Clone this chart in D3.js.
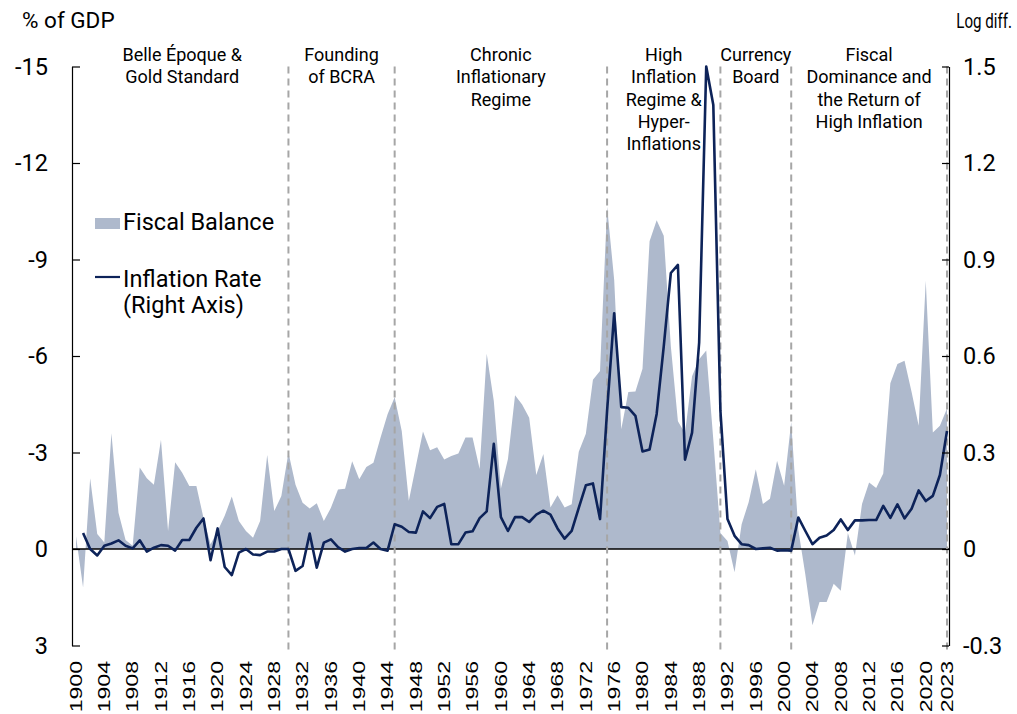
<!DOCTYPE html>
<html>
<head>
<meta charset="utf-8">
<script src="https://cdn.jsdelivr.net/npm/d3@7"></script>
<style>
  body { margin: 0; background: #fff; overflow: hidden; }
  text { font-family: Roboto, "Noto Sans", sans-serif; fill: #000; }
</style>
</head>
<body>
<div id="chart"></div>
<script>
// Years on the category axis
const years = d3.range(1900, 2024);

// Fiscal balance, % of GDP (negative = deficit, drawn upwards)
const fiscal = [
  -0.4, 1.2, -2.2, -0.47, -0.2, -3.6, -1.13, -0.28, -0.1, -2.53,     // 1900s
  -2.2, -2.0, -3.4, -0.56, -2.7, -2.37, -1.96, -1.96, -0.97, -0.15,  // 1910s
  -0.56, -1.03, -1.63, -0.87, -0.56, -0.35, -0.87, -2.92, -1.18, -1.65, // 1920s
  -3.0, -2.0, -1.44, -1.26, -1.42, -0.87, -1.28, -1.85, -1.87, -2.73,  // 1930s
  -2.17, -2.55, -2.68, -3.46, -4.19, -4.72, -3.67, -1.5, -2.58, -3.65, // 1940s
  -3.07, -3.16, -2.78, -2.89, -2.97, -3.47, -3.47, -2.49, -6.07, -4.6, // 1950s
  -1.87, -2.8, -4.78, -4.49, -4.08, -2.3, -2.95, -1.29, -1.67, -1.29,  // 1960s
  -1.39, -3.02, -3.58, -5.26, -5.53, -10.64, -8.37, -3.72, -4.88, -4.9, // 1970s
  -5.6, -9.57, -10.22, -9.74, -6.3, -3.97, -3.6, -5.37, -5.9, -6.17,   // 1980s
  -3.4, -0.5, -0.25, 0.72, -0.77, -1.46, -2.48, -1.4, -1.56, -2.74,    // 1990s
  -1.97, -3.95, -0.6, 0.8, 2.37, 1.65, 1.65, 1.08, 1.3, -0.5,          // 2000s
  0.2, -1.4, -2.07, -1.9, -2.35, -5.15, -5.75, -5.85, -4.88, -3.83,    // 2010s
  -8.34, -3.62, -3.83, -4.37                                          // 2020-2023
];

// Inflation rate, log difference (right axis); no value for 1900
const inflation = [
  null, 0.05, 0.0, -0.02, 0.01, 0.017, 0.027, 0.01, 0.002, 0.027,
  -0.008, 0.004, 0.012, 0.01, -0.005, 0.028, 0.028, 0.066, 0.095, -0.035,
  0.064, -0.056, -0.081, -0.011, 0.0, -0.017, -0.019, -0.008, -0.008, 0.0,
  0.0, -0.068, -0.053, 0.048, -0.058, 0.02, 0.03, 0.006, -0.008, 0.0,
  0.003, 0.003, 0.02, 0.0, -0.005, 0.077, 0.069, 0.053, 0.051, 0.117,
  0.096, 0.131, 0.14, 0.015, 0.015, 0.051, 0.055, 0.096, 0.117, 0.327,
  0.099, 0.056, 0.099, 0.099, 0.084, 0.107, 0.119, 0.107, 0.064, 0.032,
  0.056, 0.128, 0.198, 0.204, 0.093, 0.43, 0.733, 0.441, 0.439, 0.414,
  0.303, 0.309, 0.42, 0.63, 0.858, 0.883, 0.278, 0.362, 0.642, 1.5,
  1.38, 0.43, 0.093, 0.041, 0.015, 0.012, 0.0, 0.002, 0.004, -0.005,
  -0.004, -0.005, 0.098, 0.056, 0.015, 0.035, 0.042, 0.059, 0.092, 0.059,
  0.089, 0.089, 0.09, 0.09, 0.134, 0.097, 0.139, 0.095, 0.125, 0.182,
  0.149, 0.165, 0.23, 0.367
];

// Tick labels
const tickYears = [1900, 1904, 1908, 1912, 1916, 1920, 1924, 1928, 1932, 1936, 1940,
  1944, 1948, 1952, 1956, 1960, 1964, 1968, 1972, 1976, 1980, 1984, 1988, 1992,
  1996, 2000, 2004, 2008, 2012, 2016, 2020, 2023];
const leftTicks = [-15, -12, -9, -6, -3, 0, 3];
const rightTicks = [1.5, 1.2, 0.9, 0.6, 0.3, 0, -0.3];

// Regimes: boundaries and labels
const regimeBounds = [1900, 1930, 1945, 1975, 1991, 2001, 2023];
const regimeNames = [
  ["Belle Époque &", "Gold Standard"],
  ["Founding", "of BCRA"],
  ["Chronic", "Inflationary", "Regime"],
  ["High", "Inflation", "Regime &", "Hyper-", "Inflations"],
  ["Currency", "Board"],
  ["Fiscal", "Dominance and", "the Return of", "High Inflation"]
];

const data = years.map((yr, i) => ({year: yr, fiscal: fiscal[i], inflation: inflation[i]}));

const width = 1017, height = 714;
const plot = {left: 72, right: 949, top: 66.5, bottom: 645.5};

const svg = d3.select("#chart").append("svg")
    .attr("width", width)
    .attr("height", height);

// Scales
const x = d3.scaleLinear().domain([1900, 2023]).range([76, 947]);
const yL = d3.scaleLinear().domain([-15, 3]).range([plot.top, plot.bottom]);
const yR = d3.scaleLinear().domain([1.5, -0.3]).range([plot.top, plot.bottom]);

// Fiscal balance area
svg.append("path")
    .datum(data)
    .attr("fill", "#aeb9cc")
    .attr("d", d3.area()
        .x(d => x(d.year))
        .y0(yL(0))
        .y1(d => yL(d.fiscal)));

// Zero line
svg.append("line")
    .attr("x1", plot.left).attr("x2", plot.right)
    .attr("y1", yL(0)).attr("y2", yL(0))
    .attr("stroke", "#000").attr("stroke-width", 1.5);

// Regime dividers
svg.selectAll(".divider")
    .data(regimeBounds.slice(1))
    .enter()
    .append("line")
    .attr("class", "divider")
    .attr("x1", d => x(d)).attr("x2", d => x(d))
    .attr("y1", plot.top).attr("y2", plot.bottom + 4)
    .attr("stroke", "#a6a6a6")
    .attr("stroke-width", 2)
    .attr("stroke-dasharray", "7,5");

// Inflation line
svg.append("path")
    .datum(data)
    .attr("fill", "none")
    .attr("stroke", "#0d2359")
    .attr("stroke-width", 2.6)
    .attr("stroke-linejoin", "round")
    .attr("d", d3.line()
        .defined(d => d.inflation !== null)
        .x(d => x(d.year))
        .y(d => yR(d.inflation)));

// Left axis
const gL = svg.append("g")
    .attr("transform", `translate(${plot.left},0)`)
    .call(d3.axisLeft(yL).tickValues(leftTicks).tickSizeInner(-8).tickSizeOuter(0)
        .tickPadding(24).tickFormat(d => String(d)));

// Right axis
const gR = svg.append("g")
    .attr("transform", `translate(${plot.right},0)`)
    .call(d3.axisRight(yR).tickValues(rightTicks).tickSizeInner(-7).tickSizeOuter(0)
        .tickPadding(14).tickFormat(d => String(d)));

[gL, gR].forEach(g => {
    g.select(".domain").attr("stroke", "#000").attr("stroke-width", 1.2);
    g.selectAll(".tick line").attr("stroke", "#000").attr("stroke-width", 1.2);
    g.selectAll("text")
        .style("font-family", "Roboto, sans-serif")
        .style("font-size", "23.5px")
        .attr("fill", "#000");
});

// Year labels (rotated)
svg.selectAll(".year")
    .data(tickYears)
    .enter()
    .append("text")
    .attr("class", "year")
    .attr("transform", d => `translate(${x(d)},661) rotate(-90) scale(1.4,1)`)
    .attr("text-anchor", "end")
    .attr("dy", "0.35em")
    .style("font-family", "'Liberation Sans', Arial, sans-serif")
    .style("font-size", "16.5px")
    .text(d => d);

// Axis titles
svg.append("text")
    .attr("x", 22).attr("y", 28)
    .style("font-size", "22.5px")
    .text("% of GDP");

svg.append("text")
    .attr("transform", "translate(1012,28) scale(0.72,1)")
    .attr("text-anchor", "end")
    .style("font-size", "21px")
    .text("Log diff.");

// Regime labels
regimeNames.forEach((lines, i) => {
    const cx = x((regimeBounds[i] + regimeBounds[i + 1]) / 2);
    const t = svg.append("text")
        .attr("text-anchor", "middle")
        .style("font-size", "18px");
    lines.forEach((ln, j) => {
        t.append("tspan")
            .attr("x", cx)
            .attr("y", 61 + j * 22.3)
            .text(ln);
    });
});

// Legend
svg.append("rect")
    .attr("x", 95).attr("y", 218)
    .attr("width", 25).attr("height", 11)
    .attr("fill", "#aeb9cc");

svg.append("text")
    .attr("x", 123).attr("y", 230)
    .style("font-size", "23.5px")
    .text("Fiscal Balance");

svg.append("line")
    .attr("x1", 95).attr("x2", 120)
    .attr("y1", 277).attr("y2", 277)
    .attr("stroke", "#0d2359").attr("stroke-width", 2.2);

svg.append("text")
    .attr("x", 123).attr("y", 287)
    .style("font-size", "23.5px")
    .text("Inflation Rate");

svg.append("text")
    .attr("x", 123).attr("y", 313)
    .style("font-size", "23.5px")
    .text("(Right Axis)");
</script>
</body>
</html>
